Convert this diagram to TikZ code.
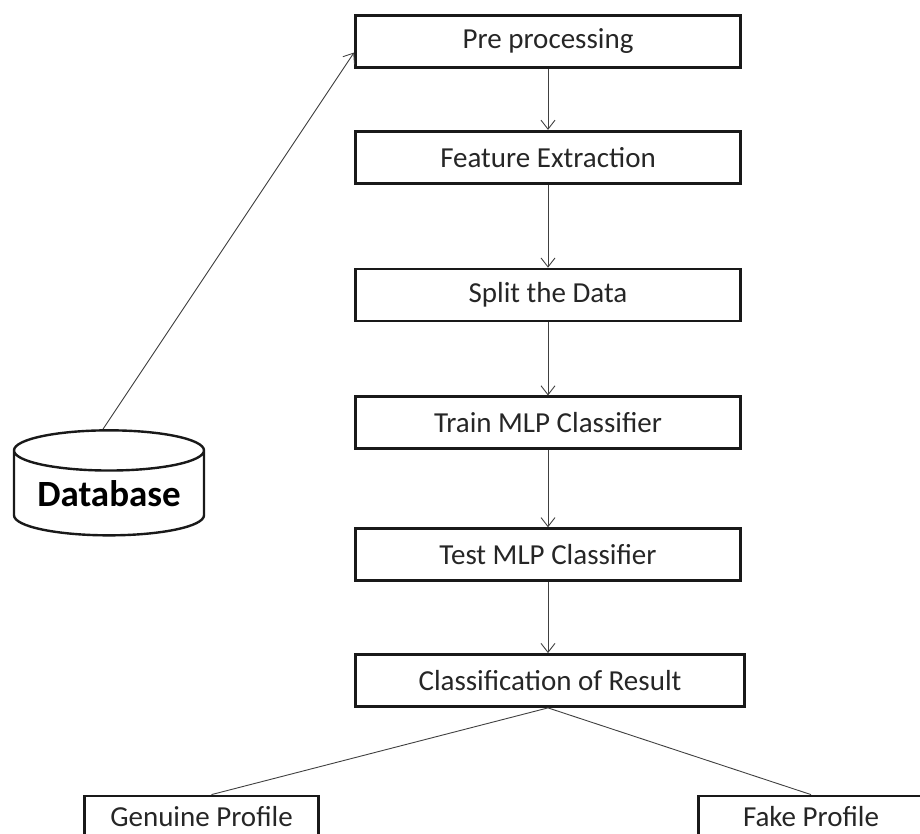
\documentclass[tikz,border=0pt]{standalone}
\usepackage{fontspec}
\setmainfont{Carlito}
\usepackage{tikz}
\usetikzlibrary{shapes.geometric, arrows.meta, positioning}

\begin{document}
\begin{tikzpicture}[x=1pt, y=1pt, node distance=60pt, font=\fontsize{29}{33}\selectfont]
\tikzstyle{stage} = [rectangle, draw=black!90, line width=2.8pt, minimum width=385pt, minimum height=52pt, inner sep=0pt, text=black!85]
\tikzstyle{result} = [stage, minimum width=234pt, minimum height=42pt]
\tikzstyle{store} = [cylinder, shape border rotate=90, aspect=0.28, draw=black!90, line width=2.4pt, minimum width=190pt, minimum height=105pt, inner sep=0pt, font=\fontsize{37}{40}\selectfont\bfseries]
\tikzstyle{line} = [draw, -{Straight Barb[length=9pt, width=14pt]}, line width=0.9pt, black!75]
\tikzstyle{plain} = [draw, line width=0.9pt, black!75]

\clip (0,0) rectangle (920,834);
\useasboundingbox (0,0) rectangle (920,834);

\node (pre) [stage] at (548,792.5) {Pre processing};
\node (feature) [stage, below=61pt of pre] {Feature Extraction};
\node (split) [stage, below=83pt of feature] {Split the Data};
\node (train) [stage, below=73pt of split] {Train MLP Classifier};
\node (test) [stage, below=77pt of train] {Test MLP Classifier};
\node (classify) [stage, below=71pt of test, xshift=2pt, minimum width=389pt] {Classification of Result};
\node (genuine) [result] at (201.5,17) {Genuine Profile};
\node (fake) [result, minimum width=225pt] at (811,17) {Fake Profile};
\node (db) [store] at (109,340.5) {Database};

\draw [line] ([xshift=-6pt]db.north) -- ([yshift=-11pt]pre.west);
\draw [line] (pre.south -| feature) -- (feature.north);
\draw [line] (feature) -- (split);
\draw [line] (split) -- (train);
\draw [line] (train) -- (test);
\draw [line] (test.south) -- (test.south |- classify.north);
\draw [plain] (test.south |- classify.south) -- ([xshift=10pt]genuine.north);
\draw [plain] (test.south |- classify.south) -- (fake.north);
\end{tikzpicture}
\end{document}
